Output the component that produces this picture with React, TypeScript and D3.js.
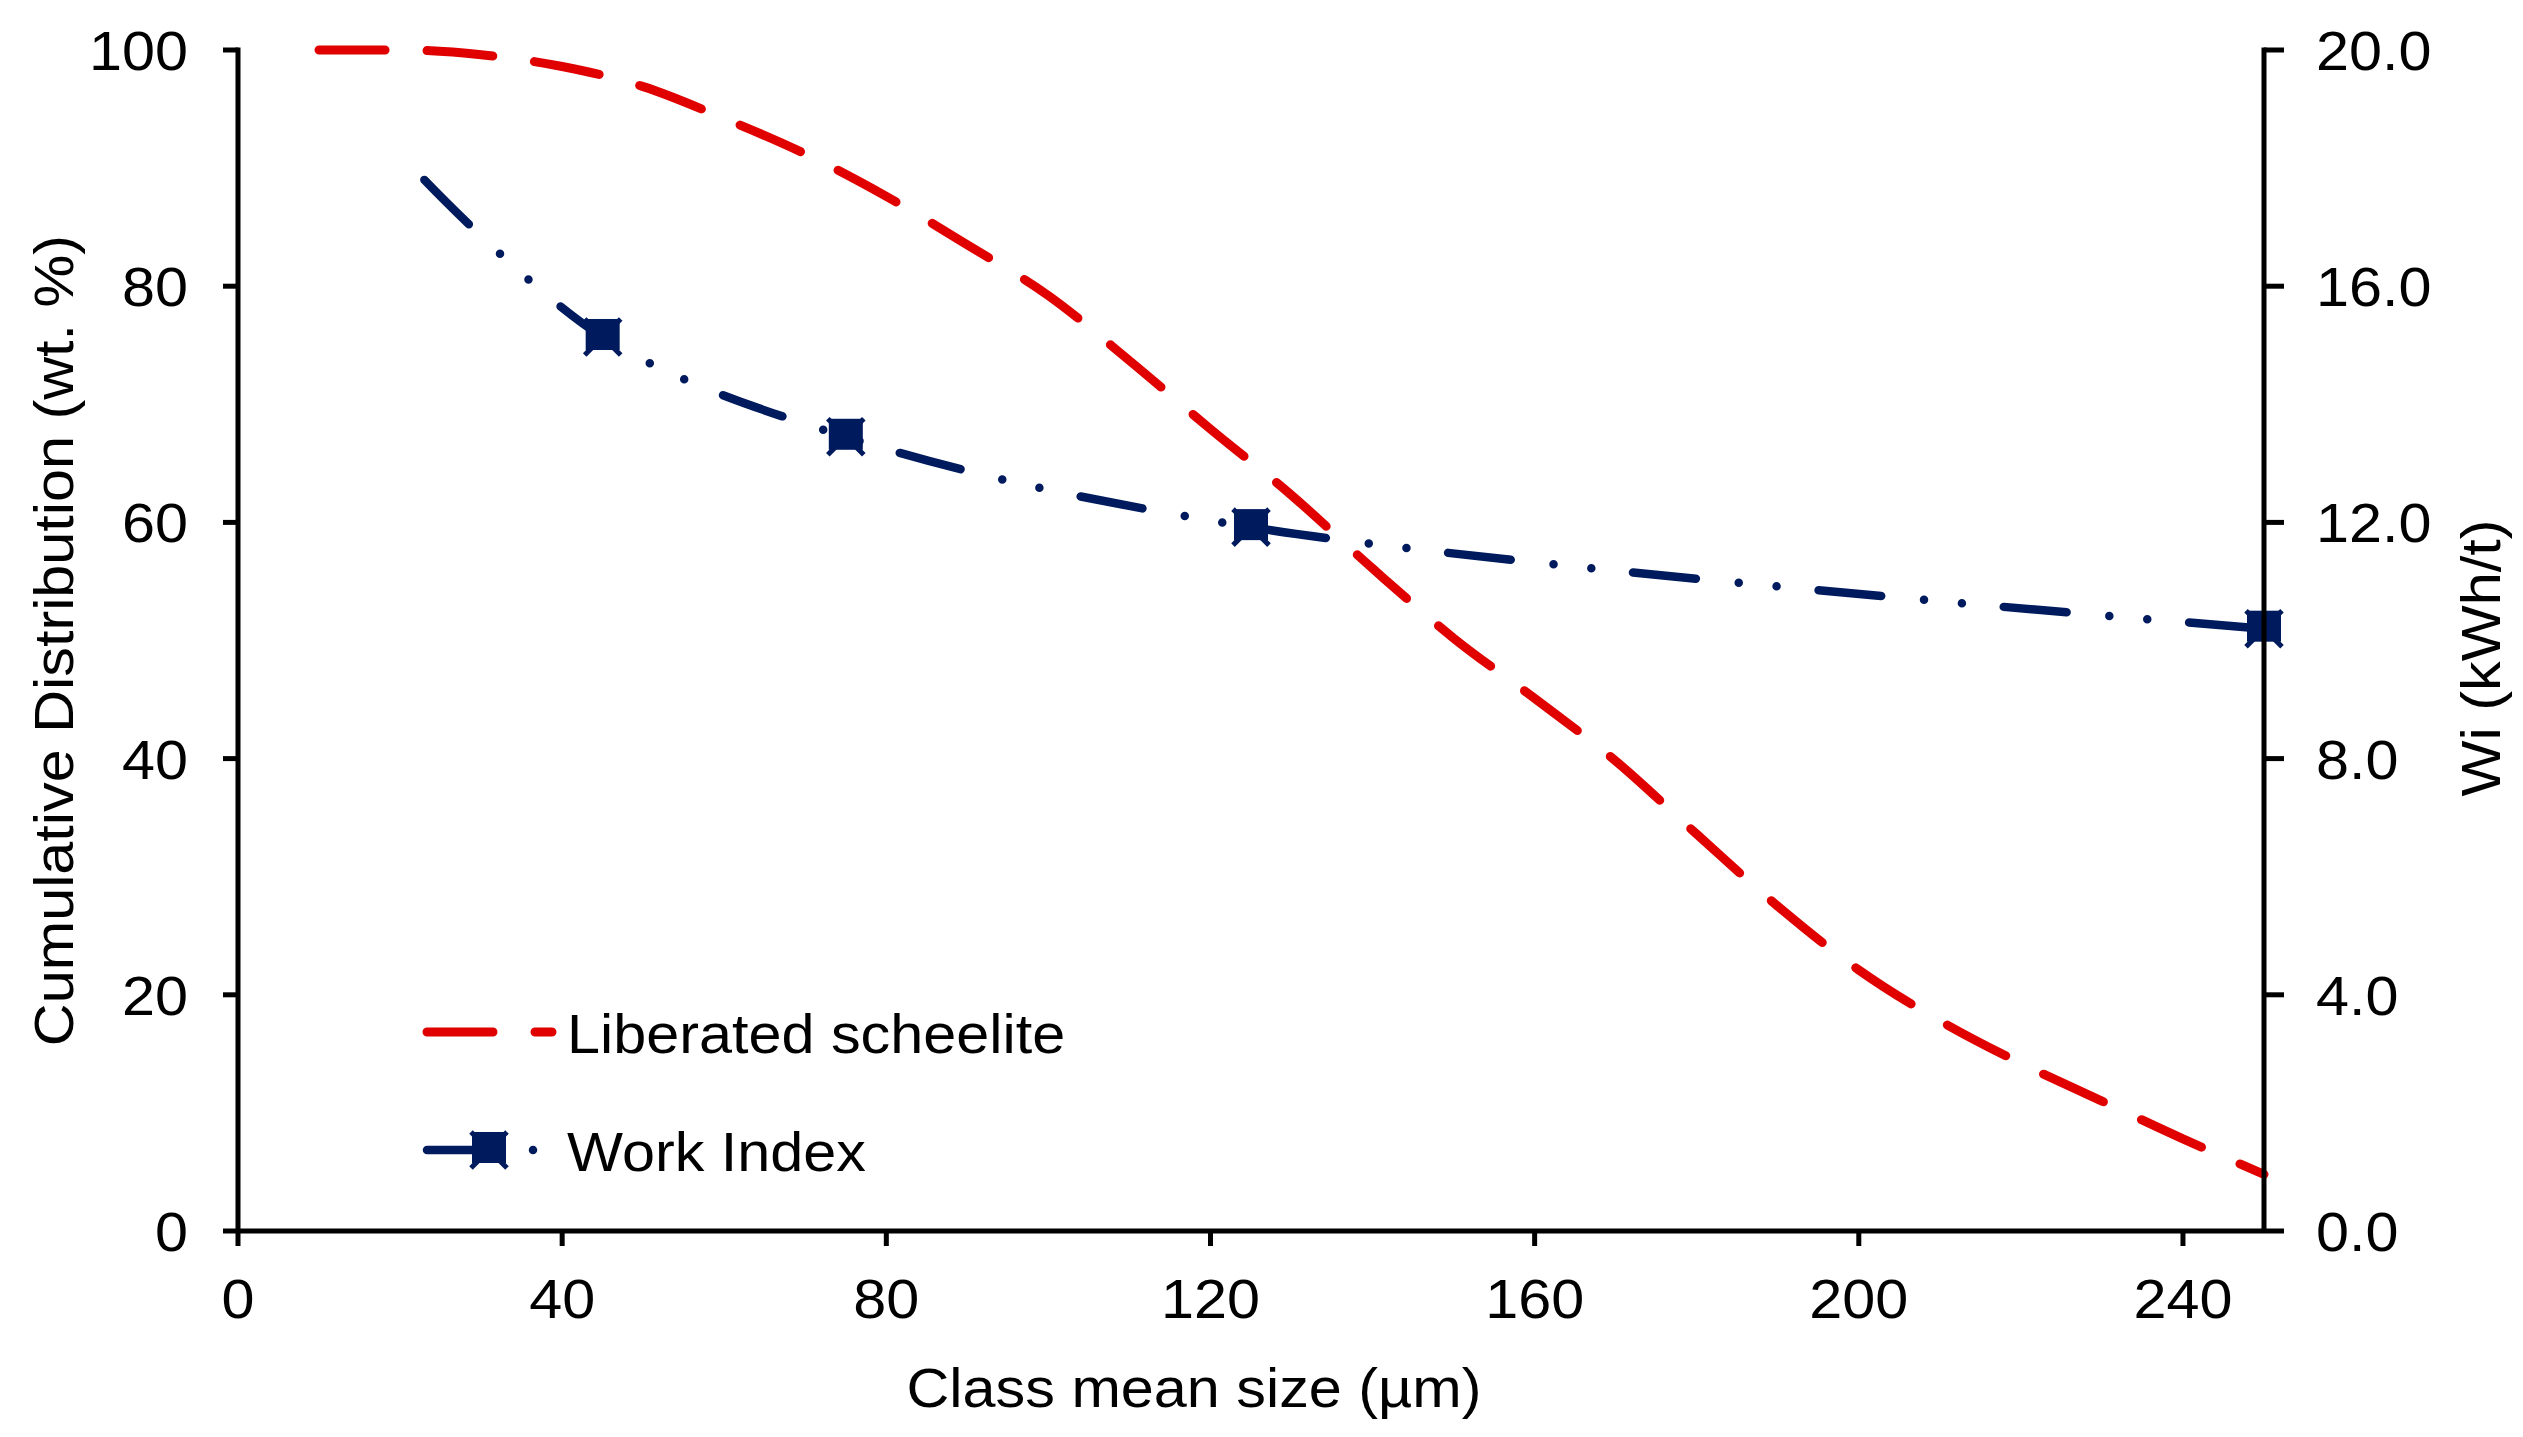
import React from 'react';
import * as d3 from 'd3';

// Values
const libSize = [10, 20, 30, 40, 50, 60, 70, 80, 90, 100, 110, 120, 130, 140, 150, 160, 170, 180, 190, 200, 210, 220, 230, 240, 250];
const liberated = [100, 100, 99.6, 98.6, 96.9, 94.2, 91.2, 87.6, 83.5, 79.2, 73.7, 67.9, 62.3, 56.1, 50.2, 45.1, 39.8, 33.6, 27.5, 22.1, 17.8, 14.2, 11.0, 7.8, 4.8];

const wiSize = [23, 45, 75, 125, 250];
const workIndex = [17.8, 15.14, 13.45, 11.92, 10.2];
const wiMarked = [false, true, true, true, true];

const xTicks = [0, 40, 80, 120, 160, 200, 240];
const leftTicks = [0, 20, 40, 60, 80, 100];
const rightTicks = [0, 4, 8, 12, 16, 20];

const W = 2523;
const H = 1437;
const plot = { left: 238, right: 2264, top: 50, bottom: 1231 };

const RED = '#e00000';
const NAVY = '#001a5e';
const FONT = '"Liberation Sans", Arial, sans-serif';
const FS = 56;
const SX = 1.06; // the figure's text is a little wider than Liberation Sans

const RED_DASH = '66 42';
const WI_DASH = '63 43 0 38 0 42';

// text stretched along its own baseline
const T: React.FC<{ x: number; y: number; rot?: number; anchor?: string; children: React.ReactNode }> =
  ({ x, y, rot = 0, anchor = 'start', children }) => (
    <text transform={`translate(${x},${y}) rotate(${rot}) scale(${SX},1)`} textAnchor={anchor}>
      {children}
    </text>
  );

const Marker: React.FC<{ x: number; y: number }> = ({ x, y }) => (
  <g transform={`translate(${x},${y})`}>
    <path d="M-18,-18L18,18M-18,18L18,-18" stroke={NAVY} strokeWidth={5} />
    <rect x={-17} y={-18} width={34} height={31} fill={NAVY} />
  </g>
);

const App: React.FC = () => {
  const x = d3.scaleLinear().domain([0, 250]).range([plot.left, plot.right]);
  const yL = d3.scaleLinear().domain([0, 100]).range([plot.bottom, plot.top]);
  const yR = d3.scaleLinear().domain([0, 20]).range([plot.bottom, plot.top]);

  const libLine = d3.line<number>()
    .x((_, i) => x(libSize[i]))
    .y(d => yL(d))
    .curve(d3.curveMonotoneX);

  const wiLine = d3.line<number>()
    .x((_, i) => x(wiSize[i]))
    .y(d => yR(d))
    .curve(d3.curveCatmullRom.alpha(0.5));

  const legendY = [1032, 1150];

  return (
    <svg
      width={W}
      height={H}
      style={{ position: 'absolute', left: 0, top: 0, background: '#fff' }}
      fontFamily={FONT}
      fontSize={FS}
    >
      <rect width={W} height={H} fill="#fff" />

      {/* series */}
      <path d={libLine(liberated) ?? ''} fill="none" stroke={RED} strokeWidth={9}
        strokeDasharray={RED_DASH} strokeLinecap="round" />
      <path d={wiLine(workIndex) ?? ''} fill="none" stroke={NAVY} strokeWidth={8.5}
        strokeDasharray={WI_DASH} strokeLinecap="round" />
      {workIndex.map((v, i) => wiMarked[i] ? <Marker key={i} x={x(wiSize[i])} y={yR(v)} /> : null)}

      {/* axes */}
      <g stroke="#000" strokeWidth={5} fill="none">
        <line x1={plot.left} x2={plot.left} y1={plot.top - 2.5} y2={plot.bottom} />
        <line x1={plot.right} x2={plot.right} y1={plot.top - 2.5} y2={plot.bottom} />
        <line x1={plot.left} x2={plot.right} y1={plot.bottom} y2={plot.bottom} />
        {xTicks.map(t => (
          <line key={'x' + t} x1={x(t)} x2={x(t)} y1={plot.bottom} y2={plot.bottom + 15} />
        ))}
        {leftTicks.map(t => (
          <line key={'l' + t} x1={plot.left - 15} x2={plot.left} y1={yL(t)} y2={yL(t)} />
        ))}
        {rightTicks.map(t => (
          <line key={'r' + t} x1={plot.right} x2={plot.right + 20} y1={yR(t)} y2={yR(t)} />
        ))}
      </g>

      {/* tick labels */}
      {xTicks.map(t => (
        <T key={'xl' + t} x={x(t)} y={1318} anchor="middle">{t}</T>
      ))}
      {leftTicks.map(t => (
        <T key={'ll' + t} x={188} y={yL(t) + 20} anchor="end">{t}</T>
      ))}
      {rightTicks.map(t => (
        <T key={'rl' + t} x={2316} y={yR(t) + 20}>{d3.format('.1f')(t)}</T>
      ))}

      {/* axis titles */}
      <T x={1194} y={1407} anchor="middle">Class mean size (µm)</T>
      <T x={73} y={(plot.top + plot.bottom) / 2} rot={-90} anchor="middle">
        Cumulative Distribution (wt. %)
      </T>
      <T x={2500} y={658} rot={-90} anchor="middle">Wi (kWh/t)</T>

      {/* legend */}
      <line x1={427} x2={552} y1={legendY[0]} y2={legendY[0]} stroke={RED} strokeWidth={9}
        strokeDasharray={RED_DASH} strokeLinecap="round" />
      <T x={567} y={legendY[0] + 21}>Liberated scheelite</T>
      <line x1={427} x2={552} y1={legendY[1]} y2={legendY[1]} stroke={NAVY} strokeWidth={8.5}
        strokeDasharray={WI_DASH} strokeLinecap="round" />
      <Marker x={489} y={legendY[1]} />
      <T x={567} y={legendY[1] + 21}>Work Index</T>
    </svg>
  );
};

export default App;
